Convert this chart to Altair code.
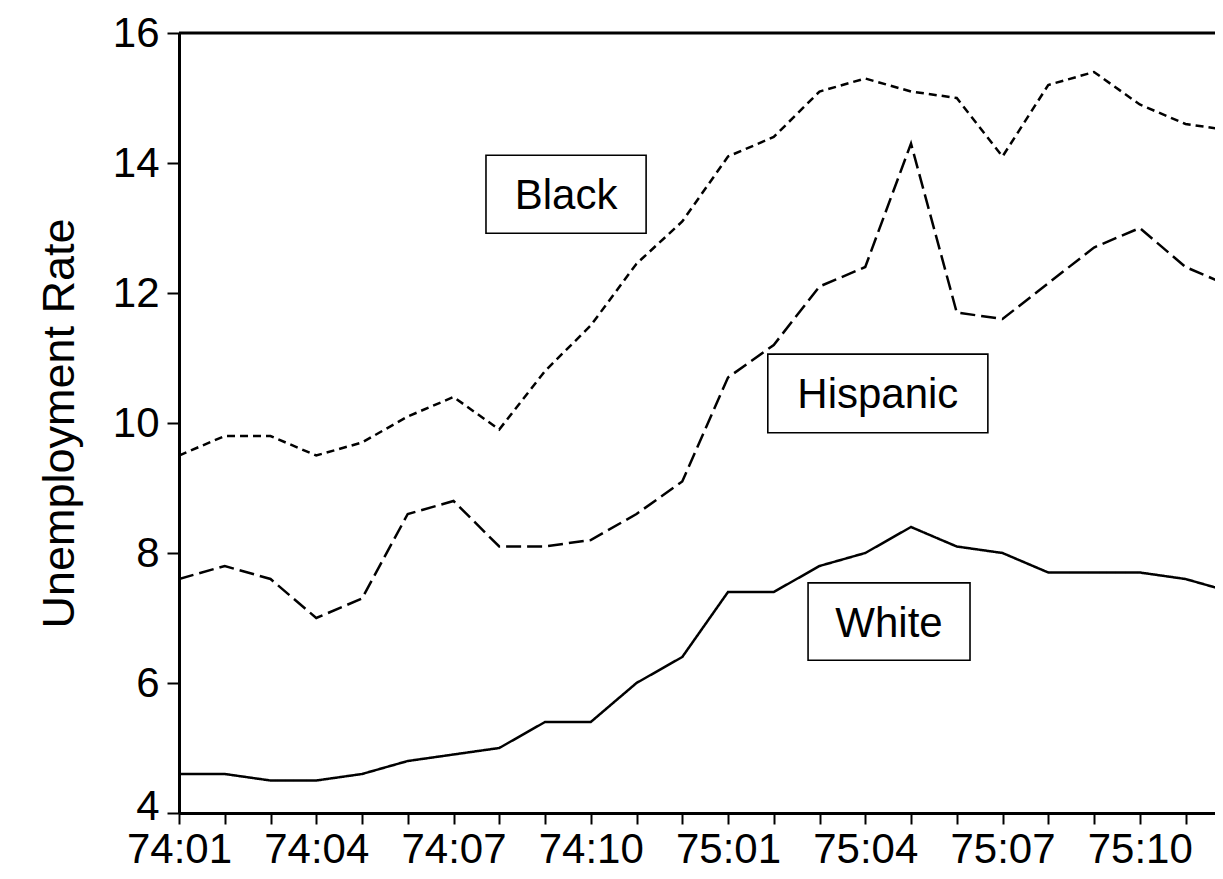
import json
import altair as alt
import pandas as pd

# ---- data ----
months = ["74:01", "74:02", "74:03", "74:04", "74:05", "74:06", "74:07", "74:08",
          "74:09", "74:10", "74:11", "74:12", "75:01", "75:02", "75:03", "75:04",
          "75:05", "75:06", "75:07", "75:08", "75:09", "75:10", "75:11", "75:12"]
black = [9.5, 9.8, 9.8, 9.5, 9.7, 10.1, 10.4, 9.9, 10.8, 11.5, 12.45, 13.1,
         14.1, 14.4, 15.1, 15.3, 15.1, 15.0, 14.1, 15.2, 15.4, 14.9, 14.6, 14.5]
hispanic = [7.6, 7.8, 7.6, 7.0, 7.3, 8.6, 8.8, 8.1, 8.1, 8.2, 8.6, 9.1,
            10.7, 11.2, 12.1, 12.4, 14.3, 11.7, 11.6, 12.15, 12.7, 13.0, 12.4, 12.1]
white = [4.6, 4.6, 4.5, 4.5, 4.6, 4.8, 4.9, 5.0, 5.4, 5.4, 6.0, 6.4,
         7.4, 7.4, 7.8, 8.0, 8.4, 8.1, 8.0, 7.7, 7.7, 7.7, 7.6, 7.4]
series_names = ["Black", "Hispanic", "White"]
y_ticks = [4, 6, 8, 10, 12, 14, 16]

# label boxes (in data units: month index and rate)
box_label = ["Black", "Hispanic", "White"]
box_x1 = [6.71, 12.87, 13.75]
box_x2 = [10.21, 17.68, 17.29]
box_y1 = [12.92, 9.85, 6.35]
box_y2 = [14.12, 11.06, 7.54]

FONT = "Liberation Sans"

rows = []
for name, vals in zip(series_names, [black, hispanic, white]):
    for i, (m, v) in enumerate(zip(months, vals)):
        rows.append({"series": name, "idx": i, "month": m, "rate": v})
df = pd.DataFrame(rows)

boxes = pd.DataFrame({
    "label": box_label, "x1": box_x1, "x2": box_x2, "y1": box_y1, "y2": box_y2,
})
boxes["xc"] = (boxes["x1"] + boxes["x2"]) / 2
boxes["yc"] = (boxes["y1"] + boxes["y2"]) / 2

top = pd.DataFrame({"v": [max(y_ticks)]})

PLOT_W = 1036
x_max = PLOT_W / 45.75
x_scale = alt.Scale(domain=[0, x_max], nice=False, zero=False)
y_scale = alt.Scale(domain=[min(y_ticks), max(y_ticks)], nice=False, zero=False)

label_expr = ("datum.value % 3 == 0 ? " + json.dumps(months).replace('"', "'")
              + "[datum.value] : ''")

x_axis = alt.Axis(
    values=list(range(0, 23)), labelExpr=label_expr, title=None, grid=False,
    tickSize=11, tickWidth=2, domainWidth=3, labelFontSize=42, labelPadding=5,
    labelFlush=False, labelOverlap=False, labelBound=False,
    domainColor="black", tickColor="black", labelColor="black",
    labelFont=FONT,
)
y_axis = alt.Axis(
    values=y_ticks, format="d", title="Unemployment Rate", grid=False, tickSize=12,
    tickWidth=2, domainWidth=3, labelFontSize=42, labelPadding=8,
    labelOffset={"condition": {"test": f"datum.value == {min(y_ticks)}", "value": -7},
                 "value": 0},
    domainColor="black", tickColor="black", labelColor="black", titleColor="black",
    labelFont=FONT, titleFont=FONT,
    titleFontSize=45, titleFontWeight="normal", titleX=-106,
    titleBaseline="alphabetic", titleAngle=-90, titleAlign="center",
)

lines = alt.Chart(df).mark_line(color="black", strokeWidth=2.5, clip=True).encode(
    x=alt.X("idx:Q", scale=x_scale, axis=x_axis),
    y=alt.Y("rate:Q", scale=y_scale, axis=y_axis),
    strokeDash=alt.StrokeDash(
        "series:N",
        scale=alt.Scale(domain=series_names, range=[[8, 5], [15, 6], [1, 0]]),
        legend=None,
    ),
    detail="series:N",
)

rects = alt.Chart(boxes).mark_rect(fill="white", stroke="black", strokeWidth=1.6).encode(
    x=alt.X("x1:Q", scale=x_scale), x2="x2:Q",
    y=alt.Y("y1:Q", scale=y_scale), y2="y2:Q",
)

texts = alt.Chart(boxes).mark_text(
    font=FONT, fontSize=42, color="black", align="center", baseline="middle", dy=2
).encode(
    x=alt.X("xc:Q", scale=x_scale),
    y=alt.Y("yc:Q", scale=y_scale),
    text="label:N",
)

top_rule = alt.Chart(top).mark_rule(color="black", strokeWidth=3).encode(
    y=alt.Y("v:Q", scale=y_scale),
)

chart = alt.layer(rects, texts, lines, top_rule).properties(
    width=PLOT_W, height=780,
    autosize=alt.AutoSizeParams(type="none"),
    padding={"left": 171, "top": 25, "right": 0, "bottom": 58},
).configure_view(strokeWidth=0).configure(background="white")

chart.save("out.html", embed_options={"renderer": "svg", "actions": False})
